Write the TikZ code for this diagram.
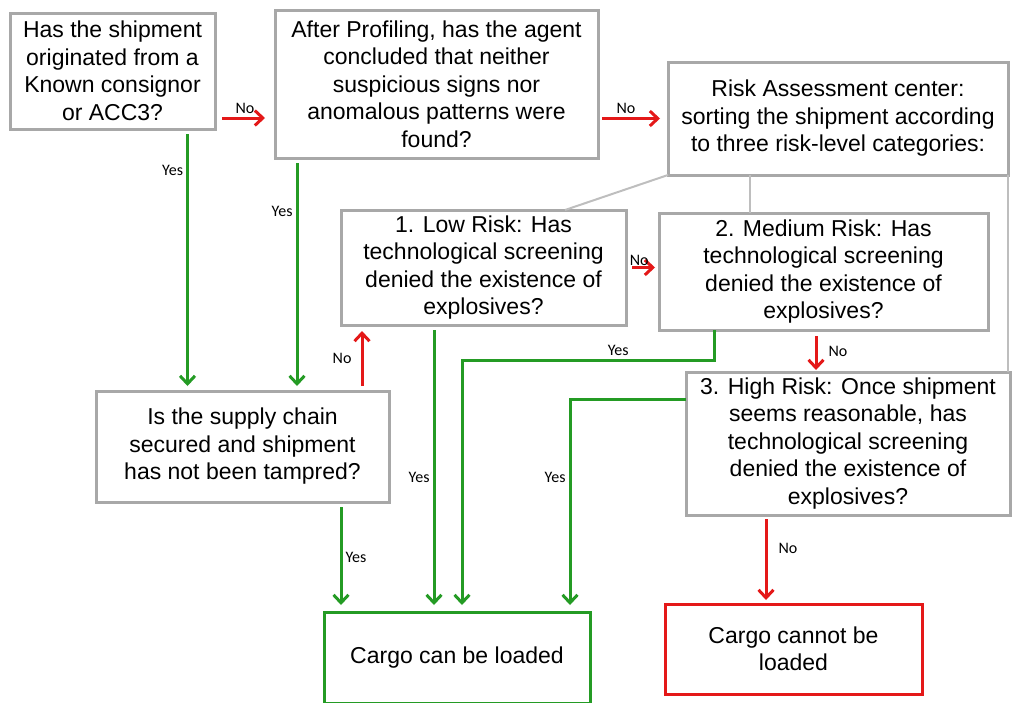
\documentclass[tikz,border=0pt]{standalone}
\usepackage{fontspec}
\setmainfont{Liberation Sans}
\newfontfamily\labelfont{Carlito}
\usetikzlibrary{arrows.meta, positioning}

\begin{document}
\begin{tikzpicture}[
    box/.style={rectangle, draw=boxgray, line width=1.5pt, fill=white, inner sep=0pt, outer sep=0pt, align=center, font=\fontsize{11.5}{13.75}\selectfont},
    yesarrow/.style={-{Straight Barb[length=4pt, width=7.5pt]}, draw=yesgreen, line width=1.5pt},
    noarrow/.style={-{Straight Barb[length=4pt, width=7.5pt]}, draw=nored, line width=1.5pt},
    link/.style={draw=linkgray, line width=1pt},
    lbl/.style={font=\labelfont\fontsize{8}{9.6}\selectfont, inner sep=1.5pt}]

    % Define colors
    \definecolor{boxgray}{RGB}{168,168,168}
    \definecolor{linkgray}{RGB}{190,190,190}
    \definecolor{yesgreen}{RGB}{36,155,36}
    \definecolor{nored}{RGB}{228,24,24}

    \useasboundingbox (0,0) rectangle (506pt,-351pt);

    % Nodes
    \node[box, minimum width=102.5pt, minimum height=58pt, anchor=north west] (known) at (5pt,-6.5pt) {Has the shipment\\originated from a\\Known consignor\\or ACC3?};
    \node[box, minimum width=161.5pt, minimum height=74pt, right=30pt of known.north east, anchor=north west, yshift=1.5pt] (profiling) {After Profiling, has the agent\\concluded that neither\\suspicious signs nor\\anomalous patterns were\\found?};
    \node[box, minimum width=170pt, minimum height=56.5pt, right=35pt of profiling.north east, anchor=north west, yshift=-26pt] (riskcenter) {Risk Assessment center:\\sorting the shipment according\\to three  risk-level categories:};
    \node[box, minimum width=142.5pt, minimum height=57.5pt, below=26pt of profiling.south west, anchor=north west, xshift=33pt] (lowrisk) {1. Low Risk: Has\\technological screening\\denied the existence of\\explosives?};
    \node[box, minimum width=164.5pt, minimum height=58.5pt, right=16.5pt of lowrisk.north east, anchor=north west, yshift=-1.5pt] (medrisk) {2. Medium Risk: Has\\technological screening\\denied the existence of\\explosives?};
    \node[box, minimum width=162pt, minimum height=71.5pt, below=21pt of medrisk.south west, anchor=north west, xshift=13.5pt] (highrisk) {3. High Risk: Once shipment\\seems reasonable, has\\technological screening\\denied the existence of\\explosives?};
    \node[box, minimum width=146.5pt, minimum height=55.5pt, below=131pt of known.south west, anchor=north west, xshift=43pt] (supply) {Is the supply chain\\secured and shipment\\has not been tampred?};
    \node[box, draw=yesgreen, minimum width=133pt, minimum height=45.5pt, below=55pt of supply.south west, anchor=north west, xshift=114pt] (loaded) {Cargo can be loaded};
    \node[box, draw=nored, minimum width=128.5pt, minimum height=45pt, below=44.5pt of highrisk.south west, anchor=north west, xshift=-10.5pt] (notloaded) {Cargo cannot be\\loaded};

    % Links from the risk assessment center to the three categories
    \draw[link] (riskcenter.south west) -- ([xshift=-30.5pt]lowrisk.north east);
    \draw[link] ([xshift=41pt]riskcenter.south west) -- ([xshift=41pt]riskcenter.south west |- medrisk.north);
    \draw[link] (riskcenter.south east) -- (riskcenter.south east |- highrisk.north);

    % No arrows
    \draw[noarrow, shorten <=3.5pt, shorten >=5pt] ([yshift=5.5pt]known.south east) -- node[lbl, above] {No} ([yshift=5.5pt]known.south east -| profiling.west);
    \draw[noarrow, shorten <=2pt, shorten >=4pt] (profiling.east |- riskcenter.west) -- node[lbl, above, pos=0.4] {No} (riskcenter.west);
    \draw[noarrow, shorten <=3pt, shorten >=2pt] (lowrisk.east) -- node[lbl, above, inner sep=0pt, pos=0.4] {No} (lowrisk.east -| medrisk.west);
    \draw[noarrow, shorten <=3pt, shorten >=1pt] ([xshift=78.5pt]medrisk.south west) -- node[lbl, right=4pt] {No} ([xshift=78.5pt]medrisk.south west |- highrisk.north);
    \draw[noarrow, shorten <=2pt, shorten >=2pt] ([xshift=40pt]highrisk.south west) -- node[lbl, right=4pt, pos=0.37] {No} ([xshift=40pt]highrisk.south west |- notloaded.north);
    \draw[noarrow, shorten <=2.5pt, shorten >=3pt] ([xshift=-13.5pt]supply.north east) -- node[lbl, left=3pt] {No} ([xshift=-13.5pt]supply.north east |- lowrisk.south);

    % Yes arrows
    \draw[yesarrow, shorten <=2.5pt, shorten >=2.5pt] ([xshift=37.5pt]known.south) -- node[lbl, left, pos=0.16] {Yes} ([xshift=37.5pt]known.south |- supply.north);
    \draw[yesarrow, shorten <=2.5pt, shorten >=2.5pt] ([xshift=11pt]profiling.south west) -- node[lbl, left, pos=0.23] {Yes} ([xshift=11pt]profiling.south west |- supply.north);
    \draw[yesarrow, shorten <=2.5pt, shorten >=3.5pt] ([xshift=-24pt]supply.south east) -- node[lbl, right] {Yes} ([xshift=-24pt]supply.south east |- loaded.north);
    \draw[yesarrow, shorten <=2.5pt, shorten >=3.5pt] ([xshift=46.5pt]lowrisk.south west) -- node[lbl, left, pos=0.53] {Yes} ([xshift=46.5pt]lowrisk.south west |- loaded.north);
    \draw[yesarrow, shorten >=3.5pt] ([xshift=27.5pt]medrisk.south west) -- ++(0,-15pt) -| node[lbl, above, pos=0.19] {Yes} ([xshift=69pt]loaded.north west);
    \draw[yesarrow, shorten >=3.5pt] ([yshift=-13.5pt]highrisk.north west) -| node[lbl, left, pos=0.685] {Yes} ([xshift=123pt]loaded.north west);

\end{tikzpicture}
\end{document}
